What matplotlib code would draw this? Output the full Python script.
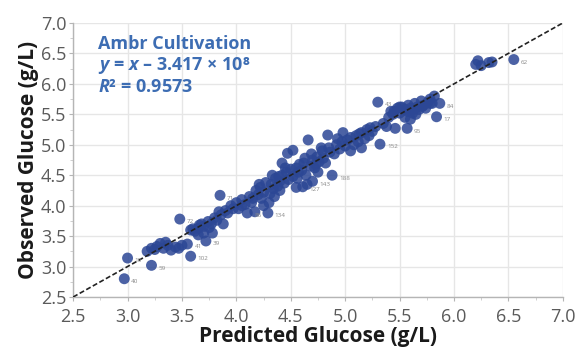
import matplotlib.pyplot as plt
from matplotlib.ticker import MultipleLocator

# predicted vs observed glucose (g/L)
predicted = [
    2.97, 3.00, 3.22, 3.18, 3.22, 3.27, 3.30, 3.33, 3.37, 3.40, 3.44, 3.47, 3.50, 3.55, 3.58, 3.48, 3.25, 3.35,
    3.58, 3.62, 3.65, 3.68, 3.70, 3.72, 3.74, 3.77, 3.78, 3.80, 3.82, 3.85, 3.86, 3.88, 3.90, 3.92, 3.95, 3.97,
    3.70, 3.65, 3.60, 3.75, 3.84, 3.66,
    4.00, 4.02, 4.05, 4.08, 4.10, 4.12, 4.15, 4.17, 4.18, 4.20, 4.22, 4.25, 4.27, 4.29, 4.30, 4.32, 4.34, 4.36,
    4.38, 4.40, 4.42, 4.44, 4.46, 4.48, 4.50, 4.25, 4.35, 4.40, 4.47, 4.52, 4.42,
    4.05, 4.14, 4.23, 4.31, 4.39, 4.45, 4.21, 4.33,
    4.52, 4.55, 4.57, 4.60, 4.62, 4.64, 4.66, 4.68, 4.70, 4.72, 4.74, 4.76, 4.78, 4.80, 4.82, 4.84, 4.86, 4.88,
    4.90, 4.92, 4.95, 4.98, 4.97, 4.61, 4.65, 4.70, 4.55, 4.75,
    4.58, 4.63, 4.69, 4.73, 4.79, 4.85, 4.93, 4.56,
    5.00, 5.02, 5.05, 5.08, 5.10, 5.12, 5.15, 5.18, 5.20, 5.22, 5.25, 5.28, 5.30, 5.32, 5.35, 5.38, 5.40, 5.42,
    5.44, 5.46, 5.48, 5.50, 5.05, 5.15, 5.57, 5.13, 5.23,
    5.52, 5.55, 5.57, 5.58, 5.60, 5.62, 5.64, 5.66, 5.68, 5.70, 5.72, 5.74, 5.76, 5.78, 5.80, 5.82, 5.84, 5.87,
    5.55, 5.60, 5.65, 5.45, 5.50, 5.63, 5.71, 5.78,
    6.20, 6.22, 6.25, 6.32, 6.35, 6.55,
]
observed = [
    2.80, 3.14, 3.02, 3.25, 3.30, 3.33, 3.38, 3.30, 3.35, 3.27, 3.32, 3.30, 3.35, 3.37, 3.17, 3.78, 3.28, 3.40,
    3.60, 3.58, 3.63, 3.70, 3.66, 3.42, 3.74, 3.70, 3.55, 3.80, 3.76, 4.17, 3.85, 3.70, 3.92, 3.88, 4.00, 3.95,
    3.55, 3.52, 3.62, 3.64, 3.90, 3.68,
    4.05, 3.95, 4.10, 4.02, 3.88, 4.15, 4.12, 3.90, 4.25, 4.18, 4.30, 4.22, 4.38, 3.88, 4.05, 4.35, 4.28, 4.45,
    4.32, 4.40, 4.50, 4.37, 4.55, 4.43, 4.60, 4.00, 4.15, 4.25, 4.86, 4.91, 4.70,
    4.00, 4.05, 4.12, 4.20, 4.48, 4.62, 4.35, 4.50,
    4.48, 4.62, 4.55, 4.58, 4.70, 4.50, 5.08, 4.65, 4.75, 4.62, 4.80, 4.72, 4.95, 4.78, 4.70, 5.16, 4.88, 4.50,
    4.85, 5.00, 4.93, 5.20, 5.05, 4.31, 4.35, 4.40, 4.30, 4.55,
    4.68, 4.78, 4.85, 4.68, 4.90, 4.95, 5.10, 4.45,
    4.98, 5.08, 5.12, 5.00, 5.15, 5.05, 5.20, 5.10, 5.25, 5.15, 5.22, 5.30, 5.70, 5.01, 5.35, 5.30, 5.45, 5.55,
    5.50, 5.27, 5.60, 5.52, 4.90, 4.95, 5.27, 5.18, 5.28,
    5.62, 5.58, 5.55, 5.65, 5.60, 5.52, 5.68, 5.62, 5.58, 5.72, 5.65, 5.60, 5.70, 5.75, 5.68, 5.80, 5.46, 5.68,
    5.45, 5.42, 5.50, 5.55, 5.62, 5.58, 5.63, 5.68,
    6.32, 6.38, 6.30, 6.35, 6.36, 6.40,
]

# run numbers printed beside some points
label_x = [2.97, 3.00, 3.22, 3.48, 3.58, 3.85, 3.72, 3.55, 4.29, 4.10, 4.61, 4.70, 4.88, 5.32, 5.57, 5.84, 5.87, 5.30, 6.55]
label_y = [2.80, 3.14, 3.02, 3.78, 3.17, 4.17, 3.42, 3.37, 3.88, 3.88, 4.31, 4.40, 4.50, 5.01, 5.27, 5.46, 5.68, 5.70, 6.40]
label_text = ["40", "10", "59", "72", "102", "71", "39", "41", "134", "86", "127", "143", "188", "152", "95", "17",
              "84", "43", "62"]

ticks = [2.5, 3.0, 3.5, 4.0, 4.5, 5.0, 5.5, 6.0, 6.5, 7.0]

plt.rcParams["font.family"] = ["Open Sans", "DejaVu Sans"]
plt.rcParams["mathtext.fontset"] = "custom"
plt.rcParams["mathtext.it"] = "Open Sans:italic:bold"
plt.rcParams["mathtext.rm"] = "Open Sans:bold"
plt.rcParams["mathtext.bf"] = "Open Sans:bold"

fig = plt.figure(figsize=(5.76, 3.54), dpi=100)
ax = fig.add_axes([0.127, 0.161, 0.85, 0.774])

ax.plot([2.5, 7.0], [2.5, 7.0], color="#222222", linestyle=(0, (3, 1.5)), linewidth=1.2, zorder=3)
ax.scatter(predicted, observed, s=62, color="#2c4795", alpha=0.85, edgecolors="none", zorder=2)
for px, py, txt in zip(label_x, label_y, label_text):
    ax.annotate(txt, (px, py), xytext=(5, -2), textcoords="offset points", fontsize=4.5, color="#8a8a8a",
                va="center", zorder=4)

ax.set_xlim(2.5, 7.0)
ax.set_ylim(2.5, 7.0)
ax.set_xticks(ticks)
ax.set_yticks(ticks)
ax.set_xticklabels([f"{t:.1f}" for t in ticks])
ax.set_yticklabels([f"{t:.1f}" for t in ticks])
ax.xaxis.set_minor_locator(MultipleLocator(0.25))
ax.yaxis.set_minor_locator(MultipleLocator(0.25))
ax.grid(True, which="major", color="#e6e6e6", linewidth=1.0, zorder=0)
ax.set_axisbelow(True)
for side in ("top", "right"):
    ax.spines[side].set_visible(False)
for side in ("left", "bottom"):
    ax.spines[side].set_color("#b5b5b5")
    ax.spines[side].set_linewidth(1.0)
ax.tick_params(axis="both", which="major", labelsize=13, colors="#b5b5b5", labelcolor="#5a5a5a", length=3)
ax.tick_params(axis="x", which="major", pad=5)
ax.tick_params(axis="y", which="major", pad=2)
ax.tick_params(axis="both", which="minor", colors="#c8c8c8", length=2)

ax.set_xlabel("Predicted Glucose (g/L)", fontsize=15, fontweight="bold", color="#1a1a1a", labelpad=0)
ax.set_ylabel("Observed Glucose (g/L)", fontsize=15, fontweight="bold", color="#1a1a1a", labelpad=1)

blue = "#3d6db3"
ax.text(0.05, 0.925, "Ambr Cultivation", transform=ax.transAxes, fontsize=13, fontweight="bold", color=blue,
        va="center")
ax.text(0.05, 0.845, r"$y$ = $x$ – 3.417 × 10⁸", transform=ax.transAxes,
        fontsize=13, fontweight="bold", color=blue, va="center")
ax.text(0.05, 0.765, r"$R$² = 0.9573", transform=ax.transAxes, fontsize=13,
        fontweight="bold", color=blue, va="center")

fig.savefig("out.png", dpi=100)
